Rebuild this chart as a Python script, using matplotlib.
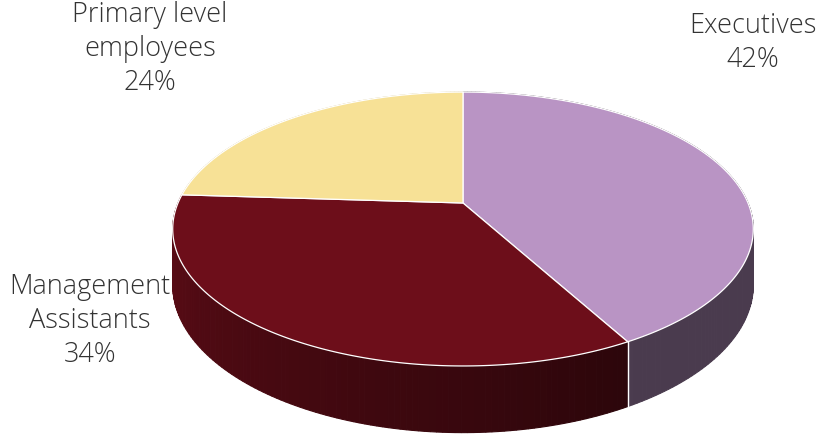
import numpy as np
import matplotlib
matplotlib.use("Agg")
import matplotlib.pyplot as plt
from matplotlib.colors import to_rgb


# ------------------------------------------------------------
# Data
# ------------------------------------------------------------

categories = ["Executives", "Management\nAssistants", "Primary level\nemployees"]
shares = [42, 34, 24]
top_colors = ["#b994c4", "#6d0e1a", "#f7e196"]

# label anchor (pixels) for each category
label_pos = [(753, 43), (90, 321), (150, 49)]


# ------------------------------------------------------------
# Geometry of the tilted pie (pixel space, perspective)
# ------------------------------------------------------------

W, H_PX = 820, 439
CX, CY = 463, 204      # projection centre
A, B = 285, 132        # horizontal / vertical radius
K = 0.19               # perspective strength (front looks bigger)
DEPTH = 54             # thickness of the disc


def project(theta_deg, bottom=False):
    """theta measured clockwise from the back (12 o'clock)."""
    t = np.radians(theta_deg)
    s = 1.0 / (1.0 + K * np.cos(t))
    x = CX + A * np.sin(t) * s
    y = CY - B * np.cos(t) * s
    if bottom:
        y = y + DEPTH * s
    return x, y


def side_shade(theta_deg):
    # light comes from the left: darker towards the front-right
    f = 0.40 + (theta_deg - 150.0) / (265.0 - 150.0) * 0.45
    return float(np.clip(f, 0.40, 0.85))


fig = plt.figure(figsize=(W / 100, H_PX / 100), dpi=100)
ax = fig.add_axes([0, 0, 1, 1])
ax.set_xlim(0, W)
ax.set_ylim(H_PX, 0)
ax.axis("off")

bounds = np.concatenate([[0], np.cumsum(shares)]) / sum(shares) * 360.0

# side walls: small quads, back ones first
quads = []
for i in range(len(shares)):
    a0, a1 = bounds[i], bounds[i + 1]
    n = max(int(a1 - a0), 2)
    edges = np.linspace(a0, a1, n + 1)
    base = np.array(to_rgb(top_colors[i]))
    for t0, t1 in zip(edges[:-1], edges[1:]):
        tm = 0.5 * (t0 + t1)
        xt0, yt0 = project(t0)
        xt1, yt1 = project(t1)
        xb0, yb0 = project(t0, bottom=True)
        xb1, yb1 = project(t1, bottom=True)
        col = base * side_shade(tm)
        quads.append((np.cos(np.radians(tm)),
                      [xt0, xt1, xb1, xb0], [yt0, yt1, yb1, yb0], col))

quads.sort(key=lambda q: -q[0])
for _, xs, ys, col in quads:
    ax.fill(xs, ys, facecolor=col, edgecolor=col, linewidth=0.8, zorder=1)

# white seam where Executives meets Management on the wall
xs0, ys0 = project(bounds[1])
xs1, ys1 = project(bounds[1], bottom=True)
ax.plot([xs0, xs1], [ys0, ys1], color="white", linewidth=1.0, zorder=2)

# top faces
for i in range(len(shares)):
    th = np.linspace(bounds[i], bounds[i + 1], 200)
    x, y = project(th)
    xs = np.concatenate([[CX], x, [CX]])
    ys = np.concatenate([[CY], y, [CY]])
    ax.fill(xs, ys, facecolor=top_colors[i], edgecolor="white",
            linewidth=0.9, joinstyle="round", zorder=3)

# labels
for cat, share, (lx, ly) in zip(categories, shares, label_pos):
    ax.text(lx, ly, f"{cat}\n{share}%", ha="center", va="center",
            fontsize=19.5, color="#333333", linespacing=1.28,
            family=["Open Sans", "DejaVu Sans"], fontweight="light",
            zorder=5)

fig.savefig("out.png", dpi=100, facecolor="white")
